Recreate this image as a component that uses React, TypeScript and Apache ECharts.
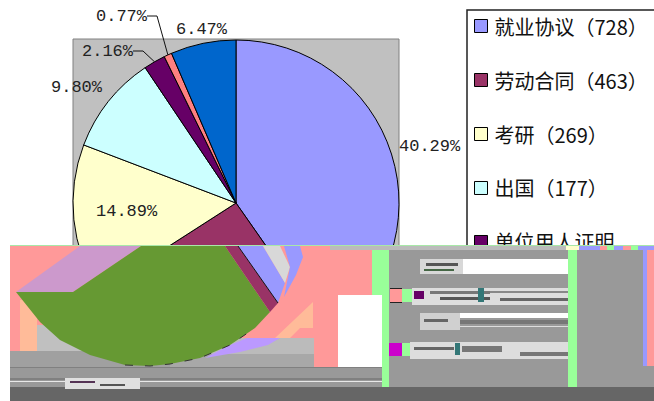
import React, { useEffect, useRef } from "react";
import * as echarts from "echarts";

const categories = ["就业协议", "劳动合同", "考研", "出国", "单位用人证明", "类别六", "类别七"];
const counts = [728, 463, 269, 177, 39, 14, 117];
const legendLabels = ["就业协议（728）", "劳动合同（463）", "考研（269）", "出国（177）", "单位用人证明"];
const colors = ["#9999FF", "#993366", "#FFFFCC", "#CCFFFF", "#660066", "#FF8080", "#0066CC"];

// where each percentage label sits in the reference [left, middle]
const labelSpots = [[399, 146], [250, 300], [96, 211], [51, 87], [82, 51], [96, 16], [176, 29]];

// The lower part of the reference is a scrambled band; these are its large blocks.
const bandRects: [number, number, number, number, string][] = [
  [10, 246, 644, 155, "#999999"],
  [10, 246, 362, 121, "#FF9999"],
  [20, 300, 17, 51, "#FFBB99"],
  [37, 325, 60, 26, "#C0C0C0"],
  [160, 338, 154, 29, "#BBBBBB"],
  [10, 351, 160, 16, "#A0A0A0"],
  [170, 354, 144, 13, "#A8A8A8"],
  [10, 367, 372, 20, "#999999"],
  [10, 367, 372, 1, "#808080"],
  [10, 378, 372, 2, "#808080"],
  [10, 381, 372, 1, "#E8E8E8"],
  [338, 295, 44, 72, "#FFFFFF"],
  [372, 246, 17, 49, "#99FF99"],
  [382, 295, 7, 92, "#99FF99"],
  [568, 246, 9, 141, "#99FF99"],
  [643, 246, 4, 120, "#9999FF"],
  [647, 246, 7, 120, "#FF9999"],
  [10, 387, 644, 14, "#666666"],
  // strips of scrambled legend text
  [463, 259, 105, 15, "#FFFFFF"],
  [420, 259, 43, 15, "#D8D8D8"],
  [426, 263, 32, 3, "#555555"],
  [424, 269, 30, 2, "#446644"],
  [390, 289, 12, 13, "#FF9999"],
  [390, 288, 12, 1, "#222222"],
  [390, 302, 12, 1, "#222222"],
  [402, 289, 10, 13, "#99FF99"],
  [412, 288, 156, 17, "#DDDDDD"],
  [414, 291, 10, 8, "#660066"],
  [430, 291, 60, 3, "#777777"],
  [440, 297, 50, 3, "#555555"],
  [478, 288, 6, 14, "#337777"],
  [490, 291, 78, 2, "#888888"],
  [500, 298, 68, 3, "#666666"],
  [420, 313, 40, 17, "#D0D0D0"],
  [424, 319, 24, 3, "#666666"],
  [460, 313, 108, 5, "#FFFFFF"],
  [460, 320, 108, 4, "#777777"],
  [460, 326, 108, 1, "#DDDDDD"],
  [389, 343, 13, 13, "#CC00CC"],
  [402, 343, 8, 13, "#99FF99"],
  [410, 342, 158, 17, "#DDDDDD"],
  [414, 347, 40, 3, "#666666"],
  [455, 343, 5, 12, "#337777"],
  [462, 346, 40, 6, "#777777"],
  [520, 352, 48, 4, "#777777"],
  [65, 378, 75, 11, "#E0E0E0"],
  [70, 381, 25, 2, "#553355"],
  [100, 384, 25, 2, "#555555"],
  [140, 381, 242, 1, "#E8E8E8"],
  // coloured run along the top edge of the band
  [330, 246, 238, 4, "#BBBBBB"],
  [566, 246, 13, 4, "#FFFFCC"],
  [579, 246, 21, 4, "#9999FF"],
  [600, 246, 7, 4, "#FF9999"],
  [607, 246, 7, 4, "#99FF99"],
  [614, 246, 9, 4, "#9999FF"],
  [623, 246, 8, 4, "#FF9999"],
  [631, 246, 7, 4, "#99FF99"],
  [638, 246, 16, 4, "#9999FF"],
  [10, 245, 644, 1, "#A8E8A8"],
];
const bandPolys: [number[][], string][] = [
  [[[16, 292], [73, 292], [141, 246], [80, 246]], "#CC99CC"],
  [[[247, 338], [280, 338], [268, 345], [240, 352], [205, 358], [230, 345]], "#BB99FF"],
  [[[270, 312], [283, 297], [313, 270], [313, 338], [247, 338], [255, 328]], "#FF9999"],
  [[[141, 246], [225, 246], [270, 312], [255, 328], [230, 345], [200, 358], [170, 364], [150, 366], [125, 365], [90, 355], [60, 340], [40, 322], [16, 292], [73, 292]], "#669933"],
  [[[225, 246], [238, 246], [278, 303], [270, 312]], "#993366"],
  [[[238, 246], [263, 246], [285, 283], [278, 303]], "#9999FF"],
  [[[263, 246], [280, 246], [290, 267], [285, 283]], "#D8D8D8"],
  [[[284, 246], [300, 246], [303, 257], [296, 275], [284, 297], [290, 267]], "#9999FF"],
  [[[275, 338], [313, 302], [313, 328], [300, 328], [290, 338]], "#FFBB99"],
];

export default function App() {
  const ref = useRef<HTMLDivElement>(null);
  useEffect(() => {
    const chart = echarts.init(ref.current!, null, { renderer: "svg" });
    const graphic: any[] = [
      { type: "rect", z: 0, shape: { x: 73, y: 39, width: 326, height: 328 }, style: { fill: "#C0C0C0", stroke: "#808080", lineWidth: 1 } },
      ...bandRects.map(([x, y, width, height, fill]) => ({ type: "rect", z: 100, shape: { x, y, width, height }, style: { fill } })),
      ...bandPolys.map(([points, fill]) => ({ type: "polygon", z: 101, shape: { points }, style: { fill } })),
      { type: "polyline", z: 102, shape: { points: [[238, 246], [278, 303]] }, style: { stroke: "#111111", lineWidth: 1, fill: "none" } },
      { type: "polyline", z: 102, shape: { points: [[125, 365], [150, 366], [170, 364], [200, 358], [230, 345], [255, 328]] }, style: { stroke: "#333333", lineWidth: 1, fill: "none", lineDash: [8, 12] } },
    ];
    chart.setOption({
      animation: false,
      backgroundColor: "#FFFFFF",
      graphic,
      legend: {
        show: true,
        orient: "vertical",
        left: 467,
        top: 10,
        data: legendLabels.map((_, i) => categories[i]),
        formatter: (name: string) => legendLabels[categories.indexOf(name)],
        icon: "rect",
        itemWidth: 13,
        itemHeight: 13,
        itemGap: 34,
        padding: [6, 120, 30, 7],
        borderColor: "#222222",
        borderWidth: 1.5,
        backgroundColor: "#FFFFFF",
        itemStyle: { borderColor: "#000000", borderWidth: 1 },
        textStyle: { fontFamily: "Noto Sans CJK SC", fontSize: 20, color: "#111111", padding: [0, 0, 0, 2] },
        selectedMode: false,
      },
      series: [
        {
          type: "pie",
          z: 2,
          silent: true,
          center: [236, 203],
          radius: [0, 163],
          startAngle: 90,
          clockwise: true,
          percentPrecision: 2,
          color: colors,
          itemStyle: { borderColor: "#000000", borderWidth: 1 },
          data: categories.map((name, i) => ({
            name,
            value: counts[i],
            labelLine: { show: i === 4 || i === 5, length: 10, length2: 10, lineStyle: { color: "#111111", width: 1 } },
          })),
          label: {
            show: true,
            position: "outside",
            overflow: "none",
            formatter: (p: any) => `${p.percent.toFixed(2)}%`,
            fontFamily: "Liberation Mono",
            fontSize: 17,
            color: "#222222",
          },
          labelLayout: (p: any) => ({
            x: labelSpots[p.dataIndex][0],
            y: labelSpots[p.dataIndex][1],
            align: "left",
            verticalAlign: "middle",
          }),
        },
      ],
    });
    return () => chart.dispose();
  }, []);
  return <div ref={ref} style={{ position: "absolute", left: 0, top: 0, width: 654, height: 401 }} />;
}
